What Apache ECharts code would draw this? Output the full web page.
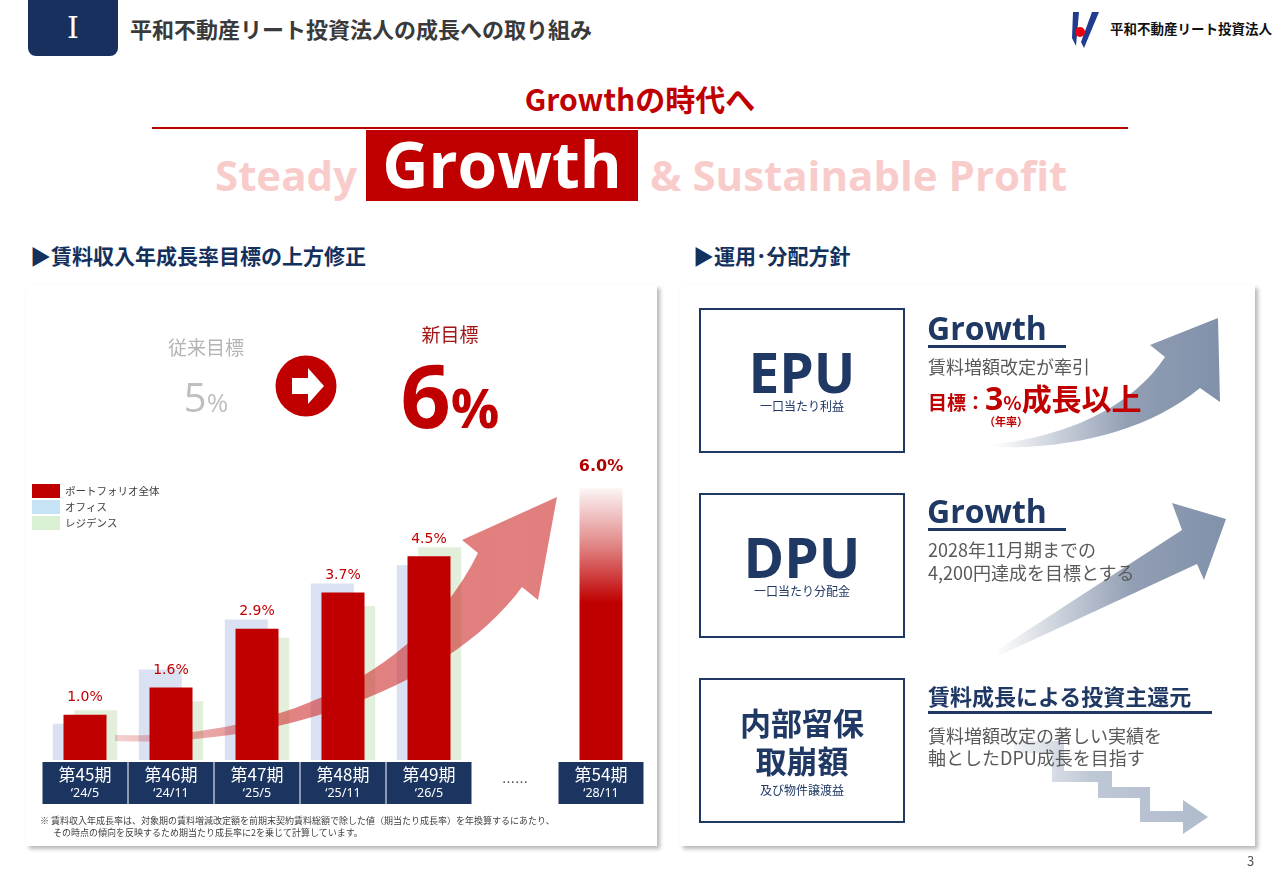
<!DOCTYPE html>
<html lang="ja">
<head>
<meta charset="utf-8">
<title>平和不動産リート投資法人の成長への取り組み</title>
<script src="https://cdn.jsdelivr.net/npm/echarts@6/dist/echarts.min.js"></script>
<style>
  html, body { margin: 0; padding: 0; }
  body {
    width: 1280px; height: 886px; position: relative; overflow: hidden; background: #fff;
    font-family: "Noto Sans CJK JP", "Noto Sans", sans-serif; color: #333;
  }
  .abs { position: absolute; white-space: nowrap; }
  .latin { font-family: "Open Sans", "Noto Sans", sans-serif; }
  .navy { color: #1f3864; }
  .card { position: absolute; background: #fff; box-shadow: 3px 3px 4px rgba(0,0,0,0.28); }
  .box { position: absolute; border: 2px solid #1f3864; box-sizing: border-box; }
  .uline { position: absolute; height: 3px; background: #1f3864; }
  .gray { color: #595959; }
</style>
</head>
<body>

<!-- header -->
<div class="abs" style="left:28px;top:-8px;width:90px;height:64px;background:#17305e;border-radius:8px;"></div>
<div class="abs" style="left:28px;top:10px;width:90px;text-align:center;font:30px/36px 'DejaVu Serif',serif;color:#fff;">I</div>
<div class="abs" style="left:130px;top:14px;font-size:22px;line-height:28px;font-weight:bold;color:#3a3a3a;">平和不動産リート投資法人の成長への取り組み</div>

<svg class="abs" style="left:1064px;top:8px;" width="40" height="42" viewBox="0 0 40 42">
  <polygon points="9,4 15,4 12,38 8,30" fill="#1f3c8f"/>
  <polygon points="28,4 35,4 20,40 17,34" fill="#1f3c8f"/>
  <circle cx="16" cy="24" r="5" fill="#e60012"/>
</svg>
<div class="abs" style="left:1110px;top:19px;font-size:13.5px;line-height:18px;font-weight:bold;color:#111;">平和不動産リート投資法人</div>

<!-- theme -->
<div class="abs" style="left:0;width:1280px;top:78px;text-align:center;font-size:30px;line-height:40px;font-weight:bold;color:#c00000;">Growthの時代へ</div>
<div class="abs" style="left:152px;top:127px;width:976px;height:2px;background:#b80000;"></div>
<div class="abs latin" style="left:215px;top:148px;font-size:42px;line-height:54px;font-weight:bold;color:#f9cccc;">Steady</div>
<div class="abs" style="left:366px;top:130px;width:272px;height:71px;background:#c00000;"></div>
<div class="abs latin" style="left:366px;top:128px;width:272px;text-align:center;font-size:64px;line-height:72px;font-weight:bold;color:#fff;">Growth</div>
<div class="abs latin" style="left:650px;top:148px;font-size:42px;line-height:54px;font-weight:bold;color:#f9cccc;">&amp; Sustainable Profit</div>

<!-- section headers -->
<div class="abs" style="left:30px;top:241px;font-size:21px;line-height:28px;font-weight:bold;color:#14305c;">▶賃料収入年成長率目標の上方修正</div>
<div class="abs" style="left:693px;top:241px;font-size:21px;line-height:28px;font-weight:bold;color:#14305c;">▶運用･分配方針</div>

<!-- left card -->
<div class="card" style="left:26px;top:285px;width:631px;height:561px;"></div>
<div id="chart" class="abs" style="left:26px;top:285px;width:631px;height:561px;"></div>

<div class="abs" style="left:156px;width:100px;text-align:center;top:335px;font-size:19px;line-height:24px;color:#b4b4b4;">従来目標</div>
<div class="abs latin" style="left:156px;width:100px;text-align:center;top:374px;line-height:46px;color:#bfbfbf;"><span style="font-size:40px;">5</span><span style="font-size:26px;">%</span></div>
<svg class="abs" style="left:274px;top:354px;" width="64" height="64" viewBox="0 0 64 64">
  <circle cx="32" cy="32" r="30.5" fill="#c00000"/>
  <polygon points="18,24 34,24 34,14 50,32 34,50 34,40 18,40" fill="#fff"/>
</svg>
<div class="abs" style="left:400px;width:100px;text-align:center;top:322px;font-size:19px;line-height:24px;color:#a31515;">新目標</div>
<div class="abs latin" style="left:380px;width:140px;text-align:center;top:360px;line-height:68px;font-weight:bold;color:#c00000;"><span style="font-size:88px;">6</span><span style="font-size:54px;">%</span></div>

<div class="abs" style="left:40px;top:815px;font-size:9px;line-height:12px;color:#404040;">※ 賃料収入年成長率は、対象期の賃料増減改定額を前期末契約賃料総額で除した値（期当たり成長率）を年換算するにあたり、</div>
<div class="abs" style="left:53px;top:827px;font-size:9px;line-height:12px;color:#404040;">その時点の傾向を反映するため期当たり成長率に2を乗じて計算しています。</div>

<!-- right card -->
<div class="card" style="left:680px;top:285px;width:575px;height:561px;"></div>

<svg class="abs" style="left:0;top:0;" width="1280" height="886">
  <defs>
    <linearGradient id="gArrow" x1="0" y1="0" x2="1" y2="0">
      <stop offset="0" stop-color="#8593ab" stop-opacity="0"/>
      <stop offset="0.6" stop-color="#8593ab" stop-opacity="0.9"/>
      <stop offset="1" stop-color="#8091aa" stop-opacity="1"/>
    </linearGradient>
    <linearGradient id="gStep" x1="0" y1="0" x2="1" y2="0">
      <stop offset="0" stop-color="#b7c1d1" stop-opacity="0.2"/>
      <stop offset="0.4" stop-color="#b7c1d1" stop-opacity="0.9"/>
      <stop offset="1" stop-color="#b0bbcc" stop-opacity="1"/>
    </linearGradient>
  </defs>
  <path d="M992 444 C1060 438 1130 410 1165 357 L1150 345 L1218 318 L1220 402 L1200 388 C1150 430 1070 450 992 447 Z" fill="url(#gArrow)"/>
  <path d="M994 652 L1182 530 L1172 503 L1226 519 L1204 580 L1197 564 L998 656 Z" fill="url(#gArrow)"/>
  <path d="M1014 741 H1064 V771 H1112 V787 H1150 V811 H1183 V800 L1208 817 L1183 834 V822 H1140 V798 H1098 V782 H1052 V753 H1014 Z" fill="url(#gStep)"/>
</svg>

<div class="box" style="left:699px;top:308px;width:206px;height:145px;"></div>
<div class="abs latin navy" style="left:699px;width:206px;text-align:center;top:350px;font-size:55px;line-height:44px;font-weight:bold;">EPU</div>
<div class="abs navy" style="left:699px;width:206px;text-align:center;top:399px;font-size:12px;line-height:14px;">一口当たり利益</div>

<div class="box" style="left:699px;top:493px;width:206px;height:145px;"></div>
<div class="abs latin navy" style="left:699px;width:206px;text-align:center;top:535px;font-size:55px;line-height:44px;font-weight:bold;">DPU</div>
<div class="abs navy" style="left:699px;width:206px;text-align:center;top:584px;font-size:12px;line-height:14px;">一口当たり分配金</div>

<div class="box" style="left:699px;top:678px;width:206px;height:145px;"></div>
<div class="abs navy" style="left:699px;width:206px;text-align:center;top:704px;font-size:31px;line-height:36px;font-weight:bold;">内部留保</div>
<div class="abs navy" style="left:699px;width:206px;text-align:center;top:742px;font-size:31px;line-height:36px;font-weight:bold;">取崩額</div>
<div class="abs navy" style="left:699px;width:206px;text-align:center;top:783px;font-size:12px;line-height:14px;">及び物件譲渡益</div>

<div class="abs latin navy" style="left:927px;top:308px;font-size:32px;line-height:40px;font-weight:bold;">Growth</div>
<div class="uline" style="left:928px;top:345px;width:138px;"></div>
<div class="abs gray" style="left:928px;top:354px;font-size:18px;line-height:24px;">賃料増額改定が牽引</div>
<div class="abs" style="left:928px;top:380px;line-height:34px;font-weight:bold;color:#c00000;"><span style="font-size:19px;">目標：</span><span class="latin" style="font-size:32px;">3</span><span style="font-size:19px;">%</span><span style="font-size:30px;">成長以上</span></div>
<div class="abs" style="left:984px;top:414px;font-size:11px;line-height:14px;font-weight:bold;color:#c00000;">（年率）</div>

<div class="abs latin navy" style="left:927px;top:491px;font-size:32px;line-height:40px;font-weight:bold;">Growth</div>
<div class="uline" style="left:928px;top:528px;width:138px;"></div>
<div class="abs gray" style="left:928px;top:538px;font-size:18px;line-height:22px;">2028年11月期までの</div>
<div class="abs gray" style="left:928px;top:561px;font-size:18px;line-height:22px;">4,200円達成を目標とする</div>

<div class="abs navy" style="left:928px;top:680px;font-size:22px;line-height:30px;font-weight:bold;">賃料成長による投資主還元</div>
<div class="uline" style="left:928px;top:711px;width:284px;"></div>
<div class="abs gray" style="left:928px;top:724px;font-size:18px;line-height:22px;">賃料増額改定の著しい実績を</div>
<div class="abs gray" style="left:928px;top:746px;font-size:18px;line-height:22px;">軸としたDPU成長を目指す</div>

<div class="abs" style="left:1247px;top:852px;font-size:13px;line-height:18px;color:#555;">3</div>

<script>
// 賃料収入年成長率 (%)
const categories = ["第45期", "第46期", "第47期", "第48期", "第49期", "……", "第54期"];
const periods = ["‘24/5", "‘24/11", "‘25/5", "‘25/11", "‘26/5", "", "‘28/11"];
const portfolio = [1.0, 1.6, 2.9, 3.7, 4.5, null, 6.0];
const office = [0.8, 2.0, 3.1, 3.9, 4.3, null, null];
const residence = [1.1, 1.3, 2.7, 3.4, 4.7, null, null];
const targetIndex = 6; // 第54期 = new target

const jp = "Noto Sans CJK JP";
const red = "#c00000";

const chart = echarts.init(document.getElementById("chart"));

const fadeRed = {
  type: "linear", x: 0, y: 0, x2: 0, y2: 1,
  colorStops: [
    { offset: 0, color: "rgba(192,0,0,0.04)" },
    { offset: 0.2, color: "rgba(192,0,0,0.45)" },
    { offset: 0.42, color: red },
    { offset: 1, color: red }
  ]
};

const portfolioData = portfolio.map((v, i) => {
  if (i !== targetIndex) return v;
  return {
    value: v,
    itemStyle: { color: fadeRed },
    label: { fontWeight: "bold", fontSize: 16, color: "#b00000", distance: 13 }
  };
});

// decorative growth arrow outline, sampled from two cubic curves (page coords)
function cubic(p0, p1, p2, p3, n) {
  const pts = [];
  for (let k = 0; k <= n; k++) {
    const t = k / n, u = 1 - t;
    pts.push([
      u * u * u * p0[0] + 3 * u * u * t * p1[0] + 3 * u * t * t * p2[0] + t * t * t * p3[0],
      u * u * u * p0[1] + 3 * u * u * t * p1[1] + 3 * u * t * t * p2[1] + t * t * t * p3[1]
    ]);
  }
  return pts;
}
const arrowPts = [].concat(
  cubic([115, 735], [250, 740], [410, 690], [478, 553], 30),
  [[462, 540], [557, 497], [538, 600]],
  cubic([522, 587], [450, 685], [280, 748], [115, 741], 30)
);

const arrowFill = {
  type: "linear", x: 0, y: 0, x2: 1, y2: 0,
  colorStops: [
    { offset: 0, color: "rgba(205,40,40,0.22)" },
    { offset: 0.4, color: "rgba(205,40,40,0.58)" },
    { offset: 1, color: "rgba(205,40,40,0.6)" }
  ]
};

chart.setOption({
  animation: false,
  textStyle: { fontFamily: jp },
  legend: {
    data: [
      { name: "ポートフォリオ全体", itemStyle: { color: red } },
      { name: "オフィス", itemStyle: { color: "#c6e2f5" } },
      { name: "レジデンス", itemStyle: { color: "#d9f0d3" } }
    ],
    orient: "vertical",
    left: 6,
    top: 199,
    padding: 0,
    icon: "rect",
    itemWidth: 28,
    itemHeight: 14,
    itemGap: 2,
    selectedMode: false,
    textStyle: { fontSize: 10.5, color: "#404040", fontFamily: jp }
  },
  grid: { left: 16, right: 13, top: 158, bottom: 86 },
  xAxis: {
    type: "category",
    data: categories.map(c => c === "……"
      ? { value: c, textStyle: { backgroundColor: "transparent", color: "#333" } }
      : c),
    axisLine: { show: false },
    axisTick: { show: false },
    axisLabel: {
      interval: 0,
      margin: 2,
      color: "#fff",
      backgroundColor: "#1b3560",
      width: 85,
      align: "center",
      padding: [2, 0, 3, 0],
      formatter: (v, i) => v === "……"
        ? "{c|" + v + "}"
        : "{a|" + v + "}\n{b|" + periods[i] + "}",
      rich: {
        a: { fontSize: 17, lineHeight: 21, fontFamily: jp, width: 85, align: "center" },
        b: { fontSize: 12.5, lineHeight: 16, fontFamily: "Noto Sans, " + jp, width: 85, align: "center" },
        c: { fontSize: 13, lineHeight: 37, fontFamily: jp, width: 85, align: "center" }
      }
    }
  },
  yAxis: {
    type: "value",
    min: 0,
    max: 7,
    show: false,
    splitLine: { show: false }
  },
  series: [
    {
      name: "オフィス",
      type: "bar",
      data: office,
      barWidth: 43,
      barGap: "-75%",
      z: 2,
      itemStyle: { color: "#d9e1f2" }
    },
    {
      name: "ポートフォリオ全体",
      type: "bar",
      data: portfolioData,
      barWidth: 43,
      barGap: "-75%",
      z: 4,
      itemStyle: { color: red },
      label: {
        show: true,
        position: "top",
        distance: 10,
        color: red,
        fontSize: 14,
        fontFamily: "DejaVu Sans",
        formatter: p => p.value.toFixed(1) + "%"
      }
    },
    {
      name: "レジデンス",
      type: "bar",
      data: residence,
      barWidth: 43,
      barGap: "-75%",
      z: 2,
      itemStyle: { color: "#e2efda" }
    }
  ],
  graphic: [
    {
      type: "polygon",
      x: -26,
      y: -285,
      z: 3,
      silent: true,
      shape: { points: arrowPts },
      style: { fill: arrowFill }
    }
  ]
});
</script>
</body>
</html>
